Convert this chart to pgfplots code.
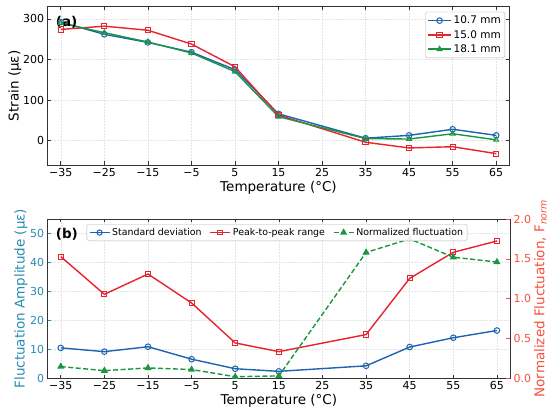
\documentclass[border=0pt]{standalone}
\usepackage{pgfplots}
\pgfplotsset{compat=1.18}
\usepackage{fontspec}
\setmainfont{DejaVu Sans}
\definecolor{cblue}{RGB}{28,100,178}
\definecolor{cred}{RGB}{232,35,46}
\definecolor{cgreen}{RGB}{26,150,65}
\definecolor{cteal}{RGB}{40,140,180}
\definecolor{corange}{RGB}{245,80,60}
\pgfplotsset{
  myaxis/.style={
    scale only axis,
    xmin=-38, xmax=68,
    xtick={-35,-25,-15,-5,5,15,25,35,45,55,65},
    xticklabels={−35,−25,−15,−5,5,15,25,35,45,55,65},
    tick label style={font=\fontsize{11}{13}\selectfont},
    label style={font=\fontsize{13.5}{16}\selectfont},
    /pgf/number format/assume math mode=true,
    axis line style={black!80, line width=0.8pt},
    major tick length=3.5pt,
    tick style={black!80, line width=0.6pt},
    grid=major,
    major grid style={black!10, line width=0.5pt, densely dotted},
    legend style={font=\fontsize{10.5}{12}\selectfont, draw=black!30, rounded corners=1.5pt, fill=white, fill opacity=0.9, text opacity=1, inner sep=2pt},
    legend cell align=left,
    legend image code/.code={\draw[mark repeat=2,mark phase=2,#1] plot coordinates {(0cm,0cm) (0.4cm,0cm) (0.8cm,0cm)};},
  },
}
\begin{document}
\begin{tikzpicture}
\path[use as bounding box] (0,0) rectangle (550pt,413pt);
% ---------- (a) ----------
\begin{axis}[myaxis,
  at={(47.7pt,406.3pt)}, anchor=north west,
  width=461.6pt, height=158.3pt,
  ymin=-60, ymax=330,
  ytick={0,100,200,300},
  yticklabels={0,100,200,300},
  xtick pos=both, ytick pos=both,
  xlabel={Temperature (°C)},
  ylabel={Strain (με)},
  xlabel style={at={(axis description cs:0.5,-0.145)}, anchor=center},
  ylabel style={at={(axis description cs:-0.071,0.5)}, anchor=center},
  legend style={at={(axis description cs:0.9907,0.968)}, anchor=north east, row sep=1pt},
]
\addplot[cblue, line width=1.4pt, mark=o, mark size=2.8pt, mark options={fill=white, line width=1pt}] coordinates {
(-35,292) (-25,262) (-15,242) (-5,218) (5,175) (15,66) (35,6) (45,13) (55,28) (65,13)};
\addlegendentry{10.7 mm}
\addplot[cred, line width=1.4pt, mark=square, mark size=2.6pt, mark options={fill=white, line width=1pt}] coordinates {
(-35,274) (-25,282) (-15,272) (-5,238) (5,182) (15,63) (35,-4) (45,-18) (55,-15) (65,-32)};
\addlegendentry{15.0 mm}
\addplot[cgreen, line width=1.4pt, mark=triangle, mark size=2.8pt, mark options={fill=white, line width=1pt}] coordinates {
(-35,290) (-25,266) (-15,243) (-5,216) (5,170) (15,59) (35,5) (45,4) (55,17) (65,2)};
\addlegendentry{18.1 mm}
\node[anchor=west, font=\fontsize{13.5}{15}\selectfont\bfseries] at (axis description cs:0.01,0.903) {(a)};
\end{axis}
% ---------- (b) left ----------
\begin{axis}[myaxis,
  at={(47.7pt,194pt)}, anchor=north west,
  width=462.3pt, height=159.3pt,
  ymin=0, ymax=55,
  ytick={0,10,20,30,40,50},
  yticklabels={0,10,20,30,40,50},
  xtick pos=both, ytick pos=left,
  y tick label style={text=cteal},
  ytick style={cteal},
  xlabel={Temperature (°C)},
  ylabel={Fluctuation Amplitude (με)},
  ylabel style={text=cteal, at={(axis description cs:-0.058,0.5)}, anchor=center},
  xlabel style={at={(axis description cs:0.5,-0.142)}, anchor=center},
]
\addplot[cblue, line width=1.4pt, mark=o, mark size=2.8pt, mark options={fill=white, line width=1pt}] coordinates {
(-35,10.5) (-25,9.2) (-15,10.9) (-5,6.6) (5,3.3) (15,2.4) (35,4.3) (45,10.8) (55,14.0) (65,16.5)};
\addplot[cred, line width=1.4pt, mark=square, mark size=2.6pt, mark options={fill=white, line width=1pt}] coordinates {
(-35,42) (-25,29) (-15,36) (-5,26) (5,12.2) (15,9.2) (35,15.1) (45,34.5) (55,43.5) (65,47.4)};
\node[anchor=west, font=\fontsize{13.5}{15}\selectfont\bfseries] at (axis description cs:0.01,0.906) {(b)};
\end{axis}
% ---------- (b) right ----------
\begin{axis}[myaxis,
  at={(47.7pt,194pt)}, anchor=north west,
  width=462.3pt, height=159.3pt,
  ymin=0, ymax=2.0,
  grid=none,
  axis x line=none,
  axis y line*=right,
  ytick={0,0.5,1.0,1.5,2.0},
  yticklabels={0.0,0.5,1.0,1.5,2.0},
  y tick label style={text=corange},
  ytick style={corange},
  ylabel={Normalized Fluctuation, F\textsubscript{\itshape norm}},
  ylabel style={text=corange, at={(axis description cs:1.066,0.5)}, anchor=center},
  legend style={font=\fontsize{9.4}{11}\selectfont, at={(axis description cs:0.0844,0.9686)}, anchor=north west, legend columns=3, /tikz/every even column/.append style={column sep=6pt}},
  legend image code/.code={\draw[mark repeat=2,mark phase=2,#1] plot coordinates {(0cm,0cm) (0.35cm,0cm) (0.7cm,0cm)};},
]
\addlegendimage{cblue, line width=1.4pt, mark=o, mark size=2.6pt, mark options={fill=white, line width=1pt}}
\addlegendentry{Standard deviation}
\addlegendimage{cred, line width=1.4pt, mark=square, mark size=2.4pt, mark options={fill=white, line width=1pt}}
\addlegendentry{Peak-to-peak range}
\addplot[cgreen, line width=1.4pt, dash pattern=on 5pt off 2.5pt, mark=triangle*, mark size=2.8pt, mark options={solid, fill=cgreen}] coordinates {
(-35,0.147) (-25,0.096) (-15,0.13) (-5,0.11) (5,0.02) (15,0.03) (35,1.58) (45,1.75) (55,1.52) (65,1.46)};
\addlegendentry{Normalized fluctuation}
\end{axis}
\end{tikzpicture}
\end{document}
